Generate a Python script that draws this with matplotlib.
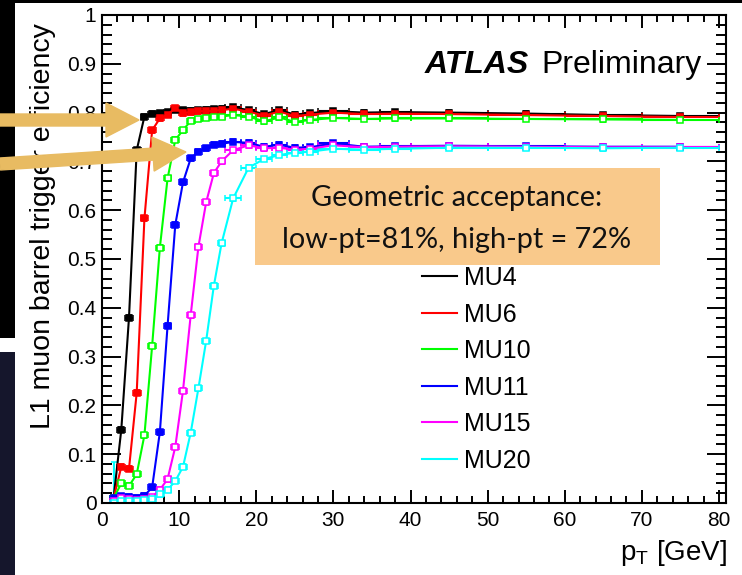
import matplotlib
matplotlib.use('Agg')
import matplotlib.pyplot as plt
from matplotlib.lines import Line2D
from matplotlib.patches import Rectangle, FancyArrow
from matplotlib.ticker import MultipleLocator, FuncFormatter
from matplotlib.transforms import IdentityTransform

plt.rcParams['font.family'] = ['Liberation Sans', 'DejaVu Sans']
plt.rcParams['mathtext.fontset'] = 'custom'
plt.rcParams['mathtext.rm'] = 'Liberation Sans'

W, H = 742, 575

# bin centres and half widths (GeV)
pt = [1.5, 2.5, 3.5, 4.5, 5.5, 6.5, 7.5, 8.5, 9.5, 10.5, 11.5, 12.5, 13.5, 14.5, 15.5,
      17, 19, 21, 23, 25, 27, 30, 34, 38, 45, 55, 65, 75]
pt_half = [0.5] * 15 + [1] * 6 + [2] * 3 + [5] * 4

# efficiencies
eff_mu4 = [0.01, 0.15, 0.38, 0.723, 0.792, 0.798, 0.799, 0.801, 0.806, 0.805, 0.804, 0.805, 0.806, 0.807, 0.808,
           0.811, 0.805, 0.797, 0.805, 0.796, 0.799, 0.803, 0.800, 0.801, 0.800, 0.798, 0.795, 0.793]
eff_mu6 = [0.01, 0.074, 0.07, 0.226, 0.583, 0.764, 0.788, 0.796, 0.809, 0.799, 0.801, 0.803, 0.803, 0.804, 0.805,
           0.808, 0.802, 0.794, 0.802, 0.793, 0.796, 0.800, 0.797, 0.798, 0.797, 0.795, 0.793, 0.791]
eff_mu10 = [0.01, 0.04, 0.035, 0.059, 0.139, 0.322, 0.523, 0.665, 0.744, 0.764, 0.783, 0.787, 0.789, 0.791, 0.792,
            0.795, 0.792, 0.782, 0.790, 0.781, 0.785, 0.789, 0.787, 0.788, 0.788, 0.787, 0.786, 0.785]
eff_mu11 = [0.01, 0.014, 0.013, 0.011, 0.015, 0.032, 0.145, 0.363, 0.57, 0.657, 0.706, 0.72, 0.727, 0.734, 0.736,
            0.740, 0.738, 0.730, 0.734, 0.728, 0.729, 0.737, 0.730, 0.731, 0.732, 0.731, 0.730, 0.730]
eff_mu15 = [0.005, 0.01, 0.008, 0.007, 0.008, 0.012, 0.027, 0.049, 0.115, 0.23, 0.385, 0.525, 0.616, 0.676, 0.70,
            0.723, 0.733, 0.727, 0.728, 0.724, 0.726, 0.733, 0.729, 0.730, 0.731, 0.730, 0.729, 0.729]
eff_mu20 = [0.0, 0.004, 0.005, 0.005, 0.007, 0.009, 0.018, 0.027, 0.045, 0.074, 0.144, 0.235, 0.332, 0.445, 0.532,
            0.624, 0.687, 0.705, 0.713, 0.718, 0.720, 0.726, 0.724, 0.726, 0.728, 0.728, 0.727, 0.728]
err_first_mu20 = 0.085

labels = ['MU4', 'MU6', 'MU10', 'MU11', 'MU15', 'MU20']
series = [eff_mu4, eff_mu6, eff_mu10, eff_mu11, eff_mu15, eff_mu20]
colors = ['#000000', '#ff0000', '#00ff00', '#0000ff', '#ff00ff', '#00ffff']
open_marker = [False, False, True, False, True, True]


def fx(x):
    return x / W


def fy(y):
    return 1 - y / H


fig = plt.figure(figsize=(W / 100, H / 100), dpi=100)
ax = fig.add_axes([fx(102), fy(503), (726 - 102) / W, (503 - 15) / H])

for eff, c, lab, op in zip(series, colors, labels, open_marker):
    yerr = [0.005] * len(eff)
    if lab == 'MU20':
        yerr = [[0.0] + [0.005] * (len(eff) - 1), [err_first_mu20] + [0.005] * (len(eff) - 1)]
    ax.errorbar(pt, eff, xerr=pt_half, yerr=yerr, color=c, marker='s', ms=3.8,
                mfc='white' if op else c, mec=c, mew=1.1, lw=1.5, elinewidth=1.5,
                capsize=2, capthick=1.5)

ax.set_xlim(0, 80.9)
ax.set_ylim(0, 1)
ax.xaxis.set_major_locator(MultipleLocator(10))
ax.xaxis.set_minor_locator(MultipleLocator(2))
ax.yaxis.set_major_locator(MultipleLocator(0.1))
ax.yaxis.set_minor_locator(MultipleLocator(0.02))
ax.yaxis.set_major_formatter(FuncFormatter(lambda v, p: '%g' % round(v, 2)))
ax.tick_params(which='both', direction='in', top=True, right=True, width=1.4, colors='black')
ax.tick_params(axis='x', which='major', length=9.5, pad=6, labelsize=15)
ax.tick_params(axis='x', which='minor', length=5)
ax.tick_params(axis='y', which='major', length=14, pad=4, labelsize=15)
ax.tick_params(axis='y', which='minor', length=7.5)
for s in ax.spines.values():
    s.set_linewidth(1.5)

# axis titles
fig.text(fx(727), fy(560), r'p$_\mathregular{T}$ [GeV]', ha='right', va='baseline', fontsize=20)
fig.text(fx(43), fy(23), 'L1 muon barrel trigger efficiency', rotation=90, ha='center', va='top', fontsize=20.5)

# ATLAS label
fig.text(fx(425), fy(73), 'ATLAS', fontsize=23, fontweight='bold', fontstyle='italic', ha='left', va='baseline')
fig.text(fx(541), fy(73), 'Preliminary', fontsize=23, ha='left', va='baseline')

# legend
handles = [Line2D([], [], color=c, lw=1.5) for c in colors]
ax.legend(handles, labels, loc='upper left', bbox_to_anchor=(fx(422), fy(266)), bbox_transform=fig.transFigure,
          frameon=False, fontsize=18, handlelength=1.4, handletextpad=0.3, labelspacing=0.5,
          borderpad=0, borderaxespad=0)

# annotation box
fig.add_artist(Rectangle((fx(255), fy(265)), (660 - 255) / W, (265 - 168) / H, transform=fig.transFigure,
                         facecolor='#f9c98b', edgecolor='none', zorder=5))
fig.text(fx(457), fy(198), 'Geometric acceptance:', ha='center', va='center', fontsize=20.8,
         family=['Lato', 'DejaVu Sans'], color='#111111', zorder=6)
fig.text(fx(457), fy(240), 'low-pt=81%, high-pt = 72%', ha='center', va='center', fontsize=20.8,
         family=['Lato', 'DejaVu Sans'], color='#111111', zorder=6)

# slide background strips
dark = dict(transform=fig.transFigure, edgecolor='none', zorder=7)
fig.add_artist(Rectangle((0, fy(3)), 1, 3 / H, facecolor='black', **dark))
fig.add_artist(Rectangle((0, fy(338)), fx(15), 338 / H, facecolor='black', **dark))
fig.add_artist(Rectangle((0, 0), fx(15), fy(352), facecolor='#15162c', **dark))

# arrows
arrow_kw = dict(width=12, head_width=34, head_length=33, length_includes_head=True,
                color='#e8bb62', transform=IdentityTransform(), zorder=8)
fig.add_artist(FancyArrow(0, H - 120, 139, 0, **arrow_kw))
fig.add_artist(FancyArrow(0, H - 164, 186, 12, **arrow_kw))

fig.savefig('out.png', dpi=100)
